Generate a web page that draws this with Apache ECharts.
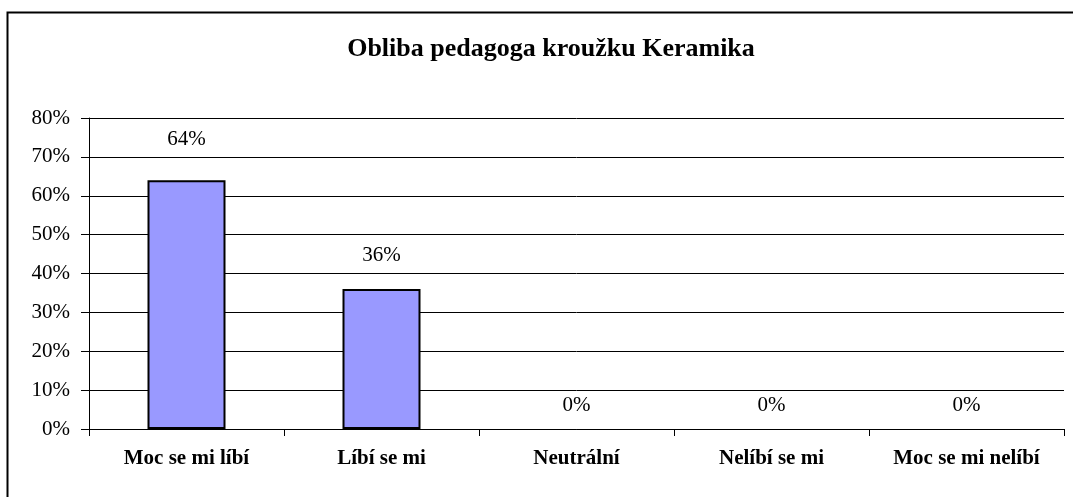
<!DOCTYPE html>
<html lang="cs">

<head>
    <meta charset="UTF-8">
    <title>Obliba pedagoga kroužku Keramika</title>
    <script src="https://cdn.jsdelivr.net/npm/echarts@6/dist/echarts.min.js"></script>
    <style>
        html, body { margin: 0; padding: 0; background: #fff; }
        .box { width: 1073px; height: 497px; }
    </style>
</head>

<body>
    <div class="box"></div>

    <script>
        // data
        var categories = ['Moc se mi líbí', 'Líbí se mi', 'Neutrální', 'Nelíbí se mi', 'Moc se mi nelíbí'];
        var values = [64, 36, 0, 0, 0];
        var labelGap = [30, 23, 13, 13, 13];

        var myChart = echarts.init(document.querySelector('.box'));
        var serif = '"Liberation Serif", "DejaVu Serif", serif';

        option = {
            animation: false,
            title: {
                text: 'Obliba pedagoga kroužku Keramika',
                left: 546,
                top: 31,
                textAlign: 'center',
                textStyle: { fontFamily: serif, fontSize: 26, fontWeight: 'bold', color: '#000' }
            },
            graphic: [{
                type: 'rect',
                shape: { x: 7.5, y: 12.5, width: 1100, height: 520 },
                style: { fill: 'none', stroke: '#000', lineWidth: 2 },
                silent: true
            }],
            grid: { left: 89, right: 9, top: 118, bottom: 68 },
            xAxis: {
                type: 'category',
                data: categories,
                axisLine: { lineStyle: { color: '#000', width: 1 } },
                axisTick: { show: true, length: 7, lineStyle: { color: '#000' } },
                axisLabel: { fontFamily: serif, fontSize: 21, fontWeight: 'bold', color: '#000', margin: 19 }
            },
            yAxis: {
                type: 'value',
                min: 0,
                max: 80,
                interval: 10,
                axisLine: { show: true, lineStyle: { color: '#000', width: 1 } },
                axisTick: { show: true, length: 8, lineStyle: { color: '#000' } },
                axisLabel: { formatter: '{value}%', fontFamily: serif, fontSize: 21, color: '#000', margin: 19 },
                splitLine: { lineStyle: { color: '#000', width: 1 } }
            },
            series: [{
                type: 'bar',
                barWidth: 78,
                data: values.map(function (v, i) {
                    return {
                        value: v,
                        label: { distance: labelGap[i] },
                        itemStyle: { borderWidth: v === 0 ? 0 : 2 }
                    };
                }),
                itemStyle: { color: '#9999FF', borderColor: '#000', borderWidth: 2 },
                label: {
                    show: true,
                    position: 'top',
                    formatter: '{c}%',
                    fontFamily: serif,
                    fontSize: 21,
                    color: '#000'
                }
            }]
        };
        myChart.setOption(option);
    </script>
</body>

</html>
